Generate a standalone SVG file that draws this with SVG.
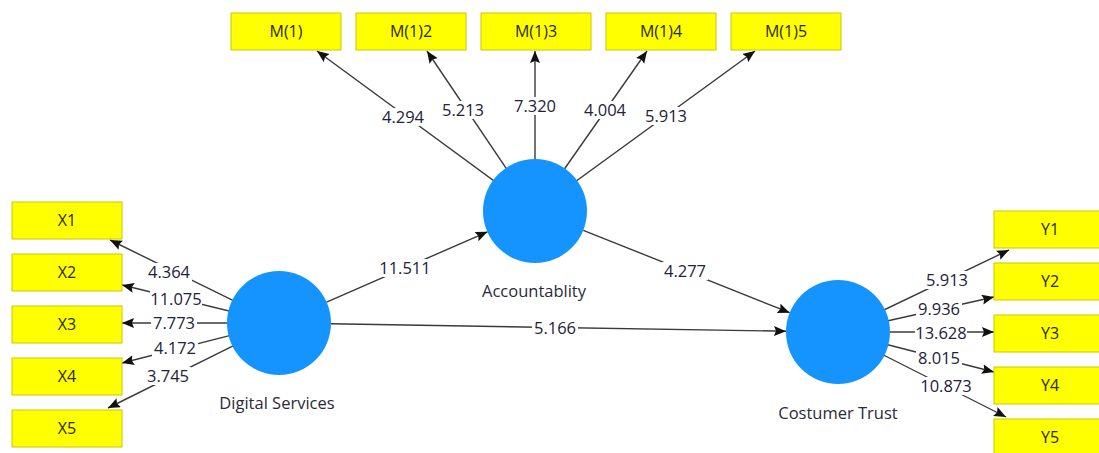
<svg xmlns="http://www.w3.org/2000/svg" width="1099" height="453" viewBox="0 0 1099 453">
<style>
.bg{fill:#ffffff}
.box{fill:#ffff00;stroke:#c9c900;stroke-width:1}
.bt{font-family:"Open Sans","Noto Sans","DejaVu Sans",sans-serif;font-size:16px;fill:#2a2a10;text-anchor:middle}
.lv{fill:#1593ff}
.nl{font-family:"Open Sans","Noto Sans","DejaVu Sans",sans-serif;font-size:16.5px;fill:#2a2a3a;text-anchor:middle}
.ln{stroke:#3a3a3a;stroke-width:1.4;fill:none;marker-end:url(#ah)}
.lb{fill:#ffffff}
.num{font-family:"Open Sans","Noto Sans","DejaVu Sans",sans-serif;font-size:16.5px;fill:#22223a;text-anchor:middle}
</style>
<defs>
<marker id="ah" markerUnits="userSpaceOnUse" markerWidth="13" markerHeight="11" refX="12" refY="5" orient="auto">
<path d="M0,0 L12,5 L0,10 L2,5 z" fill="#111"/>
</marker>
</defs>
<rect class="bg" x="0" y="0" width="1099" height="453"/>
<g id="connectors">
<line class="ln" x1="535" y1="211" x2="317" y2="51"/>
<line class="ln" x1="535" y1="211" x2="427" y2="51"/>
<line class="ln" x1="535" y1="211" x2="535" y2="51"/>
<line class="ln" x1="535" y1="211" x2="647" y2="51"/>
<line class="ln" x1="535" y1="211" x2="755" y2="51"/>
<line class="ln" x1="279" y1="323" x2="110" y2="240"/>
<line class="ln" x1="279" y1="323" x2="122" y2="285"/>
<line class="ln" x1="279" y1="323" x2="122" y2="323"/>
<line class="ln" x1="279" y1="323" x2="122" y2="363"/>
<line class="ln" x1="279" y1="323" x2="108" y2="408"/>
<line class="ln" x1="838" y1="332" x2="1009" y2="250"/>
<line class="ln" x1="838" y1="332" x2="994" y2="297"/>
<line class="ln" x1="838" y1="332" x2="994" y2="332"/>
<line class="ln" x1="838" y1="332" x2="994" y2="372"/>
<line class="ln" x1="838" y1="332" x2="1006" y2="417"/>
<line class="ln" x1="326.6" y1="302.2" x2="487.5" y2="231.8"/>
<line class="ln" x1="583.3" y1="230.3" x2="789.7" y2="312.7"/>
<line class="ln" x1="331" y1="323.8" x2="786" y2="331.2"/>
<g>
<rect class="lb" x="380" y="108" width="46" height="18"/><text class="num" x="403" y="123">4.294</text>
<rect class="lb" x="440" y="101" width="46" height="18"/><text class="num" x="463" y="116">5.213</text>
<rect class="lb" x="512" y="97" width="46" height="18"/><text class="num" x="535" y="112">7.320</text>
<rect class="lb" x="582" y="101" width="46" height="18"/><text class="num" x="605" y="116">4.004</text>
<rect class="lb" x="643" y="107" width="46" height="18"/><text class="num" x="666" y="122">5.913</text>
<rect class="lb" x="146" y="263" width="46" height="18"/><text class="num" x="169" y="278">4.364</text>
<rect class="lb" x="150" y="290" width="52" height="18"/><text class="num" x="176" y="305">11.075</text>
<rect class="lb" x="151" y="314" width="46" height="18"/><text class="num" x="174" y="329">7.773</text>
<rect class="lb" x="152" y="339" width="46" height="18"/><text class="num" x="175" y="354">4.172</text>
<rect class="lb" x="145" y="367" width="46" height="18"/><text class="num" x="168" y="382">3.745</text>
<rect class="lb" x="924" y="271" width="46" height="18"/><text class="num" x="947" y="286">5.913</text>
<rect class="lb" x="916" y="300" width="46" height="18"/><text class="num" x="939" y="315">9.936</text>
<rect class="lb" x="915" y="324" width="52" height="18"/><text class="num" x="941" y="339">13.628</text>
<rect class="lb" x="916" y="349" width="46" height="18"/><text class="num" x="939" y="364">8.015</text>
<rect class="lb" x="920" y="377" width="52" height="18"/><text class="num" x="946" y="392">10.873</text>
<rect class="lb" x="379" y="259" width="52" height="18"/><text class="num" x="405" y="274">11.511</text>
<rect class="lb" x="662" y="262" width="46" height="18"/><text class="num" x="685" y="277">4.277</text>
<rect class="lb" x="532" y="319" width="46" height="18"/><text class="num" x="555" y="334">5.166</text>
</g>
</g>
<g id="node-m1"><rect class="box" x="231" y="13" width="110" height="37"/><text class="bt" x="286" y="37">M(1)</text></g>
<g id="node-m12"><rect class="box" x="356" y="13" width="110" height="37"/><text class="bt" x="411" y="37">M(1)2</text></g>
<g id="node-m13"><rect class="box" x="481" y="13" width="110" height="37"/><text class="bt" x="536" y="37">M(1)3</text></g>
<g id="node-m14"><rect class="box" x="606" y="13" width="110" height="37"/><text class="bt" x="661" y="37">M(1)4</text></g>
<g id="node-m15"><rect class="box" x="731" y="13" width="110" height="37"/><text class="bt" x="786" y="37">M(1)5</text></g>
<g id="node-x1"><rect class="box" x="12" y="202" width="110" height="37"/><text class="bt" x="67" y="226">X1</text></g>
<g id="node-x2"><rect class="box" x="12" y="254" width="110" height="37"/><text class="bt" x="67" y="278">X2</text></g>
<g id="node-x3"><rect class="box" x="12" y="306" width="110" height="37"/><text class="bt" x="67" y="330">X3</text></g>
<g id="node-x4"><rect class="box" x="12" y="358" width="110" height="37"/><text class="bt" x="67" y="382">X4</text></g>
<g id="node-x5"><rect class="box" x="12" y="410" width="110" height="37"/><text class="bt" x="67" y="434">X5</text></g>
<g id="node-y1"><rect class="box" x="994" y="211" width="110" height="37"/><text class="bt" x="1050" y="235">Y1</text></g>
<g id="node-y2"><rect class="box" x="994" y="263" width="110" height="37"/><text class="bt" x="1050" y="287">Y2</text></g>
<g id="node-y3"><rect class="box" x="994" y="315" width="110" height="37"/><text class="bt" x="1050" y="339">Y3</text></g>
<g id="node-y4"><rect class="box" x="994" y="367" width="110" height="37"/><text class="bt" x="1050" y="391">Y4</text></g>
<g id="node-y5"><rect class="box" x="994" y="419" width="110" height="37"/><text class="bt" x="1050" y="443">Y5</text></g>
<g id="node-accountability"><circle class="lv" cx="535" cy="211" r="52"/><text class="nl" x="534" y="297">Accountablity</text></g>
<g id="node-digital-services"><circle class="lv" cx="279" cy="323" r="52"/><text class="nl" x="277" y="409">Digital Services</text></g>
<g id="node-costumer-trust"><circle class="lv" cx="838" cy="332" r="52"/><text class="nl" x="838" y="419">Costumer Trust</text></g>
</svg>
